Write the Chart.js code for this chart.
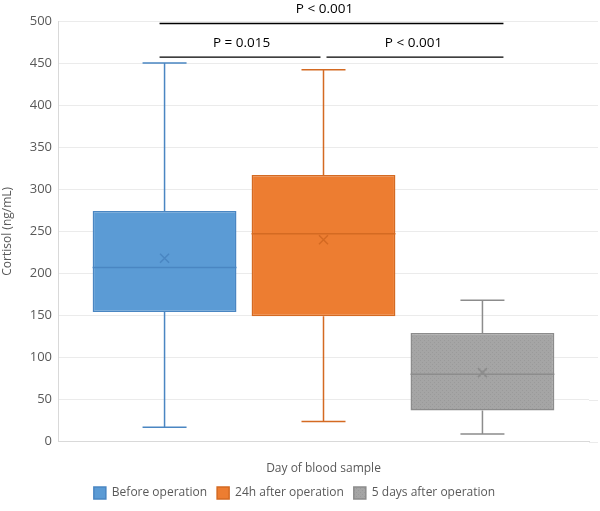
<!DOCTYPE html>
<html>
<head>
<meta charset="utf-8">
<script src="https://cdn.jsdelivr.net/npm/chart.js@4/dist/chart.umd.min.js"></script>
<style>
  html, body { margin: 0; padding: 0; background: #fff; }
  #wrap { width: 600px; height: 511px; }
</style>
</head>
<body>
<div id="wrap"><canvas id="boxChart"></canvas></div>
<script>
// box plot values
var groups = ['Before operation', '24h after operation', '5 days after operation'];
var minVals = [17, 24, 9];
var q1Vals = [154, 149, 37];
var medianVals = [207, 247, 80];
var q3Vals = [274, 317, 129];
var maxVals = [450, 442, 168];
var meanVals = [218, 240, 82];

var pLabels = ['P < 0.001', 'P = 0.015', 'P < 0.001'];

// light dotted texture for the grey box, like the original
function dotted(base, dot) {
  var c = document.createElement('canvas');
  c.width = 4; c.height = 4;
  var g = c.getContext('2d');
  g.fillStyle = base; g.fillRect(0, 0, 4, 4);
  g.fillStyle = dot;
  g.fillRect(0, 0, 1, 1); g.fillRect(2, 2, 1, 1);
  return g.createPattern(c, 'repeat');
}

var fillColors = ['#5B9BD5', '#ED7D31', dotted('#A5A5A5', '#9A9A9A')];
var lineColors = ['#4A86C2', '#D46A22', '#8C8C8C'];

var datasets = groups.map(function (g, i) {
  return {
    label: g,
    data: [[q1Vals[i], q3Vals[i]]],
    backgroundColor: fillColors[i],
    borderColor: lineColors[i],
    borderWidth: 1.5,
    borderSkipped: false
  };
});

var boxExtras = {
  id: 'boxExtras',
  beforeDatasetsDraw: function (chart) {
    // gridlines in the original run a little past the plot's right edge
    var ctx = chart.ctx, y = chart.scales.y, a = chart.chartArea;
    ctx.save();
    ctx.strokeStyle = '#EBEBEB';
    ctx.lineWidth = 1;
    y.ticks.forEach(function (t) {
      var py = Math.round(y.getPixelForValue(t.value)) + 0.5;
      ctx.beginPath();
      ctx.moveTo(a.right, py);
      ctx.lineTo(598, py);
      ctx.stroke();
    });
    ctx.restore();
  },
  afterDatasetsDraw: function (chart) {
    var ctx = chart.ctx;
    var y = chart.scales.y;
    ctx.save();
    groups.forEach(function (g, i) {
      var bar = chart.getDatasetMeta(i).data[0];
      var x = bar.x, half = bar.width / 2, cap = 22;
      ctx.strokeStyle = lineColors[i];
      ctx.lineWidth = 1.5;
      ctx.beginPath();
      // whiskers
      ctx.moveTo(x, y.getPixelForValue(q3Vals[i]));
      ctx.lineTo(x, y.getPixelForValue(maxVals[i]));
      ctx.moveTo(x - cap, y.getPixelForValue(maxVals[i]));
      ctx.lineTo(x + cap, y.getPixelForValue(maxVals[i]));
      ctx.moveTo(x, y.getPixelForValue(q1Vals[i]));
      ctx.lineTo(x, y.getPixelForValue(minVals[i]));
      ctx.moveTo(x - cap, y.getPixelForValue(minVals[i]));
      ctx.lineTo(x + cap, y.getPixelForValue(minVals[i]));
      // median
      ctx.moveTo(x - half, y.getPixelForValue(medianVals[i]));
      ctx.lineTo(x + half, y.getPixelForValue(medianVals[i]));
      ctx.stroke();
      // mean marker
      var my = y.getPixelForValue(meanVals[i]);
      ctx.beginPath();
      ctx.moveTo(x - 4.5, my - 4.5); ctx.lineTo(x + 4.5, my + 4.5);
      ctx.moveTo(x + 4.5, my - 4.5); ctx.lineTo(x - 4.5, my + 4.5);
      ctx.stroke();
    });
    ctx.restore();
  },
  afterDraw: function (chart) {
    var ctx = chart.ctx;
    var y = chart.scales.y;
    var b0 = chart.getDatasetMeta(0).data[0];
    var b1 = chart.getDatasetMeta(1).data[0];
    var b2 = chart.getDatasetMeta(2).data[0];
    var left = b0.x - 5, mid = b1.x, right = b2.x + 21;
    var yTop = y.getPixelForValue(497);
    var yLow = y.getPixelForValue(457);
    ctx.save();
    ctx.strokeStyle = '#000';
    ctx.lineWidth = 1.3;
    ctx.beginPath();
    ctx.moveTo(left, yTop); ctx.lineTo(right, yTop);
    ctx.moveTo(left, yLow); ctx.lineTo(mid - 3, yLow);
    ctx.moveTo(mid + 3, yLow); ctx.lineTo(right, yLow);
    ctx.stroke();
    ctx.fillStyle = '#000';
    ctx.font = '13.5px "Open Sans"';
    ctx.textAlign = 'center';
    ctx.textBaseline = 'alphabetic';
    ctx.fillText(pLabels[0], (left + right) / 2 - 7, yTop - 11);
    ctx.fillText(pLabels[1], (left + mid) / 2, yLow - 10);
    ctx.fillText(pLabels[2], (mid + right) / 2, yLow - 10);
    ctx.restore();
  }
};

Chart.defaults.font.family = '"Open Sans", sans-serif';
Chart.defaults.color = '#595959';

new Chart(document.getElementById('boxChart'), {
  type: 'bar',
  data: { labels: [''], datasets: datasets },
  options: {
    responsive: true,
    maintainAspectRatio: false,
    animation: false,
    layout: { padding: { top: 21, right: 11, left: 0, bottom: 2 } },
    categoryPercentage: 0.898,
    barPercentage: 0.905,
    plugins: {
      legend: {
        position: 'bottom',
        labels: { boxWidth: 12, boxHeight: 12, padding: 10, font: { size: 12 }, color: '#595959' }
      },
      tooltip: { enabled: false }
    },
    scales: {
      x: {
        grid: { display: false, drawTicks: false },
        border: { color: '#D9D9D9' },
        ticks: { display: false },
        title: { display: true, text: 'Day of blood sample', font: { size: 12 }, color: '#595959', padding: { top: 20, bottom: 1 } }
      },
      y: {
        min: 0,
        max: 500,
        ticks: { stepSize: 50, font: { size: 13 }, color: '#595959', padding: 6 },
        grid: { color: '#EBEBEB', drawTicks: false },
        border: { color: '#D9D9D9' },
        title: { display: true, text: 'Cortisol (ng/mL)', font: { size: 12 }, color: '#595959', padding: { top: 0, bottom: 4 } },
        afterFit: function (s) { s.width = 58; }
      }
    }
  },
  plugins: [boxExtras]
});
</script>
</body>
</html>
